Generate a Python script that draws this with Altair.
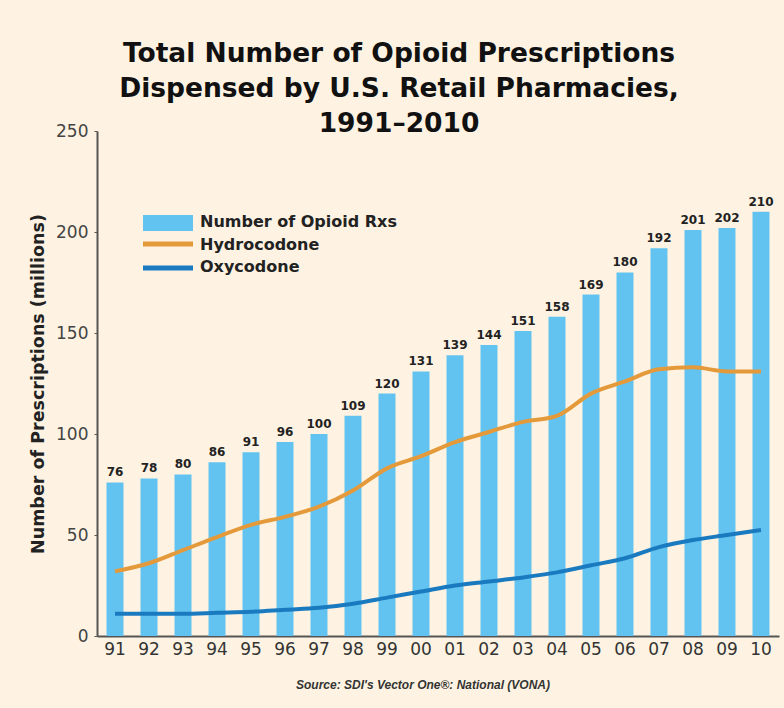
import altair as alt
import pandas as pd

years = ["91", "92", "93", "94", "95", "96", "97", "98", "99", "00",
         "01", "02", "03", "04", "05", "06", "07", "08", "09", "10"]
total_rxs = [76, 78, 80, 86, 91, 96, 100, 109, 120, 131,
             139, 144, 151, 158, 169, 180, 192, 201, 202, 210]
hydrocodone = [32, 36, 42.5, 49, 55, 59, 64, 72, 83, 89,
               96, 101, 106, 109, 120, 126, 132, 133, 131, 131]
oxycodone = [11, 11, 11, 11.5, 12, 13, 14, 16, 19, 22,
             25, 27, 29, 31.5, 35, 38.5, 44, 47.5, 50, 52.5]

BG = "#FEF3E2"
BAR = "#63C3F0"
ORANGE = "#E49A3A"
BLUE = "#1A7AC0"
FONT = "DejaVu Sans"

df = pd.DataFrame({"year": years, "total": total_rxs,
                   "hydro": hydrocodone, "oxy": oxycodone})

W, H = 682, 505

x = alt.X("year:N", sort=years, title=None,
          scale=alt.Scale(paddingInner=0.5, paddingOuter=0.28),
          axis=alt.Axis(labelAngle=0, labelFontSize=17, labelColor="#333",
                        labelFont=FONT, ticks=False, labelPadding=5,
                        domainColor="#555", domainWidth=2))
y_scale = alt.Scale(domain=[0, 250], nice=False)

base = alt.Chart(df)

bars = base.mark_bar(color=BAR).encode(
    x=x,
    y=alt.Y("total:Q", scale=y_scale,
            title="Number of Prescriptions (millions)",
            axis=alt.Axis(values=[0, 50, 100, 150, 200, 250], grid=False,
                          labelFontSize=17, labelColor="#444", labelFont=FONT,
                          tickSize=3, tickColor="#555", labelPadding=6,
                          domainColor="#555", domainWidth=2,
                          titleFont=FONT, titleFontSize=17.5, titleFontWeight="bold",
                          titleColor="#222", titlePadding=8)),
)

bar_labels = base.mark_text(baseline="bottom", dy=-3, fontSize=12,
                            fontWeight="bold", font=FONT, color="#222").encode(
    x=alt.X("year:N", sort=years),
    y=alt.Y("total:Q", scale=y_scale),
    text="total:Q",
)

hydro_line = base.mark_line(color=ORANGE, strokeWidth=4, interpolate="monotone").encode(
    x=alt.X("year:N", sort=years),
    y=alt.Y("hydro:Q", scale=y_scale),
)
oxy_line = base.mark_line(color=BLUE, strokeWidth=4, interpolate="monotone").encode(
    x=alt.X("year:N", sort=years),
    y=alt.Y("oxy:Q", scale=y_scale),
)

one = alt.Chart(pd.DataFrame({"k": [0]}))

leg_bar = one.mark_rect(color=BAR).encode(
    x=alt.value(46), x2=alt.value(96), y=alt.value(84), y2=alt.value(100))
leg_h = one.mark_rule(color=ORANGE, strokeWidth=5).encode(
    x=alt.value(46), x2=alt.value(96), y=alt.value(113))
leg_o = one.mark_rule(color=BLUE, strokeWidth=5).encode(
    x=alt.value(46), x2=alt.value(96), y=alt.value(137))

def leg_text(label, yy):
    return one.mark_text(align="left", baseline="middle", fontSize=16,
                         fontWeight="bold", font=FONT, color="#222").encode(
        x=alt.value(103), y=alt.value(yy), text=alt.value(label))

source = one.mark_text(align="center", baseline="middle", fontSize=12,
                       fontStyle="italic", fontWeight="bold", font="Liberation Sans",
                       color="#333").encode(
    x=alt.value(326), y=alt.value(554),
    text=alt.value("Source: SDI's Vector One\u00ae: National (VONA)"))

chart = alt.layer(
    bars, hydro_line, oxy_line, bar_labels,
    leg_bar, leg_h, leg_o,
    leg_text("Number of Opioid Rxs", 91),
    leg_text("Hydrocodone", 114),
    leg_text("Oxycodone", 136),
    source,
).properties(
    width=W, height=H,
    title=alt.TitleParams(
        ["Total Number of Opioid Prescriptions",
         "Dispensed by U.S. Retail Pharmacies,",
         "1991\u20132010"],
        fontSize=26.5, font=FONT, fontWeight="bold", color="#111",
        lineHeight=35, anchor="middle", dx=-39, offset=-15),
    background=BG,
    padding={"left": 97, "top": 131, "right": 5, "bottom": 72},
    autosize=alt.AutoSizeParams(type="none"),
).configure_view(stroke=None)

chart.save("out.html", embed_options={"renderer": "svg", "actions": False})
